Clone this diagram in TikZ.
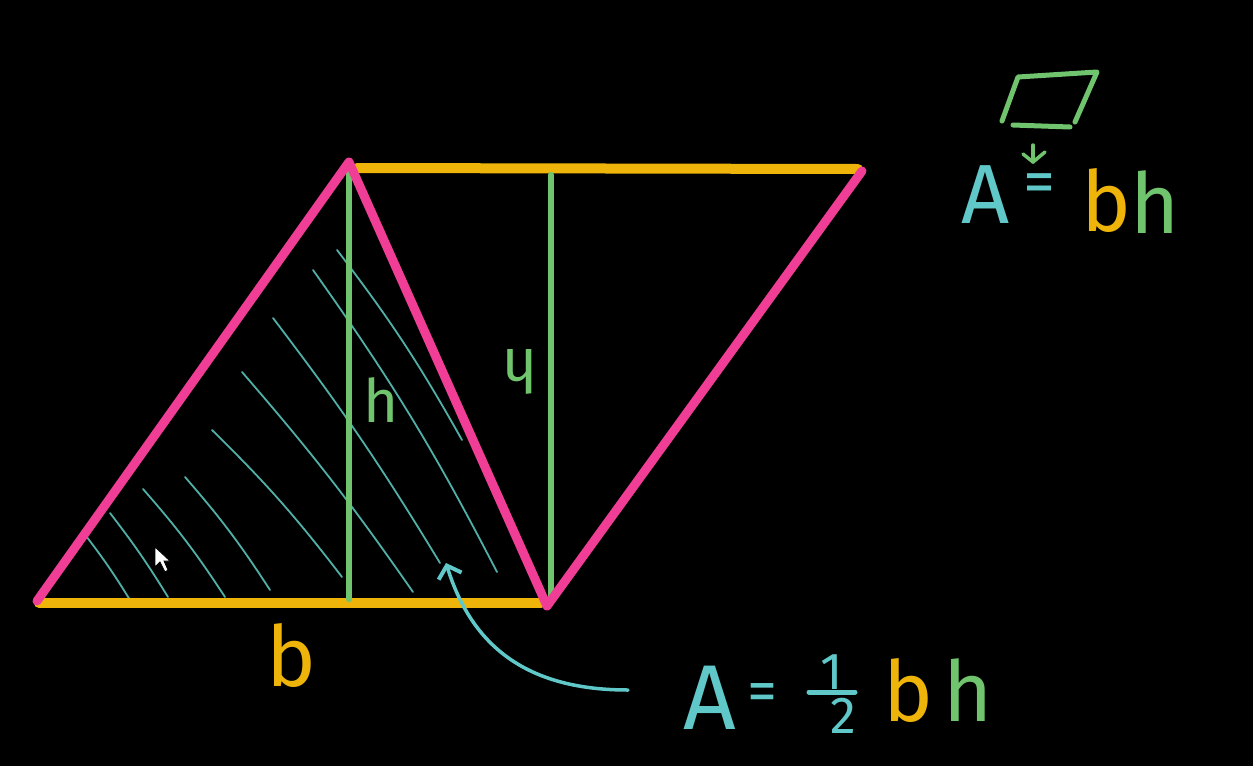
\documentclass[tikz,border=0pt]{standalone}
\usepackage{fontspec}
\setmainfont{Fira Sans}
\usetikzlibrary{arrows.meta}
\definecolor{kpink}{RGB}{240,62,150}
\definecolor{kyellow}{RGB}{238,180,10}
\definecolor{kgreen}{RGB}{112,196,110}
\definecolor{kcyan}{RGB}{96,200,200}
\definecolor{khatch}{RGB}{80,176,168}
\tikzset{
  pinkline/.style={draw=kpink,line width=9pt,line join=round,line cap=round},
  yellowline/.style={draw=kyellow,line width=10pt,line cap=round},
  greenline/.style={draw=kgreen,line width=6.5pt,line cap=round},
  hatch/.style={draw=khatch,line width=1.8pt,line cap=round},
  cyanarrow/.style={draw=kcyan,line width=3.5pt,line cap=round,-{Straight Barb[length=11pt,width=24pt,line width=4pt]}},
  thinpen/.style={draw=kgreen,line width=5pt,line cap=round,line join=round},
  lbl/.style={inner sep=0pt,font=\fontsize{60}{60}\selectfont},
  big/.style={inner sep=0pt,font=\fontsize{84}{84}\selectfont},
}
\begin{document}
\begin{tikzpicture}[x=1pt,y=-1pt]
\fill[black] (0,0) rectangle (1253,766);
\useasboundingbox (0,0) rectangle (1253,766);
% vertices
\coordinate (P1) at (37,601);
\coordinate (P2) at (349,162);
\coordinate (P3) at (547,606);
\coordinate (P4) at (862,171);
\coordinate (Y1) at (39,603);
\coordinate (Y2) at (541,603);
\coordinate (Y3) at (357,168);
\coordinate (Y4) at (858,169);
\coordinate (G1t) at (349,172);
\coordinate (G1b) at (349,599);
\coordinate (G2t) at (551,175);
\coordinate (G2b) at (551,598);
% hatch lines
\draw[hatch] (83,532) to[bend left=3] (130,600);
\draw[hatch] (110,513) to[bend left=3] (168,597);
\draw[hatch] (143,489) to[bend left=4] (225,597);
\draw[hatch] (185,477) to[bend left=4] (270,590);
\draw[hatch] (212,430) to[bend left=4] (342,577);
\draw[hatch] (242,372) to[bend left=3] (413,592);
\draw[hatch] (273,318) to[bend left=3] (440,563);
\draw[hatch] (313,270) to[bend left=4] (497,572);
\draw[hatch] (337,250) to[bend left=4] (462,440);
% yellow
\draw[yellowline] (Y1) -- (Y2);
\draw[yellowline] (Y3) -- (Y4);
% green heights
\draw[greenline] (G1t) -- (G1b);
\draw[greenline] (G2t) -- (G2b);
% pink
\draw[pinkline] (P1) -- (P2) -- (P3) -- (P4);
% labels
\node[lbl,text=kgreen] (h1) at (381,400) {h};
\node[lbl,text=kgreen,rotate=180] (h2) at (520,372) {h};
\node[big,text=kyellow] (b1) at (291,655) {b};
% arrow
\coordinate (ArrS) at (628,690);
\coordinate (ArrE) at (446,563);
\draw[cyanarrow] (ArrS) .. controls (520,690) and (470,640) .. (ArrE);
% bottom formula
\node[big,text=kcyan,font=\fontsize{92}{92}\selectfont] (fA) at (710,698) {A};
\node[big,text=kcyan,font=\fontsize{60}{60}\selectfont] (fEq) at (762,698) {=};
\node[text=kcyan,inner sep=0pt,font=\fontsize{52}{52}\selectfont] (f1) at (832,672) {1};
\coordinate (fbarL) at (809,692);
\coordinate (fbarR) at (855,692);
\draw[draw=kcyan,line width=5pt,line cap=round] (fbarL) -- (fbarR);
\node[text=kcyan,inner sep=0pt,font=\fontsize{52}{52}\selectfont] (f2) at (843,716) {2};
\node[big,text=kyellow] (fb) at (908,690) {b};
\node[big,text=kgreen] (fh) at (968,690) {h};
% top right parallelogram
\coordinate (Q1) at (1018,77);
\coordinate (Q2) at (1097,72);
\coordinate (Q3) at (1075,122);
\coordinate (Q4) at (1002,121);
\draw[thinpen] (Q4) -- (Q1) -- (Q2) -- (Q3);
\coordinate (B1) at (1013,125);
\coordinate (B2) at (1070,127);
\draw[thinpen] (B1) -- (B2);
\coordinate (D1) at (1033,145);
\coordinate (D2) at (1033,162);
\draw[thinpen,line width=3.5pt] (D1) -- (D2);
\coordinate (D3) at (1023,154);
\coordinate (D4) at (1045,152);
\draw[thinpen,line width=3.5pt] (D3) -- (D2) -- (D4);
\node[text=kcyan,inner sep=0pt,font=\fontsize{84}{84}\selectfont] (tA) at (986,195) {A};
\node[text=kcyan,inner sep=0pt,font=\fontsize{64}{64}\selectfont] (tEq) at (1039,189) {=};
\node[big,text=kyellow] (tb) at (1106,200) {b};
\node[big,text=kgreen] (th) at (1155,202) {h};
% cursor
\coordinate (C1) at (155,547);
\coordinate (C2) at (155,567);
\coordinate (C3) at (160,562);
\coordinate (C4) at (165,572);
\coordinate (C5) at (168,570);
\coordinate (C6) at (164,561);
\coordinate (C7) at (170,561);
\filldraw[fill=white,draw=black,line width=0.8pt] (C1) -- (C2) -- (C3) -- (C4) -- (C5) -- (C6) -- (C7) -- cycle;
\end{tikzpicture}
\end{document}
